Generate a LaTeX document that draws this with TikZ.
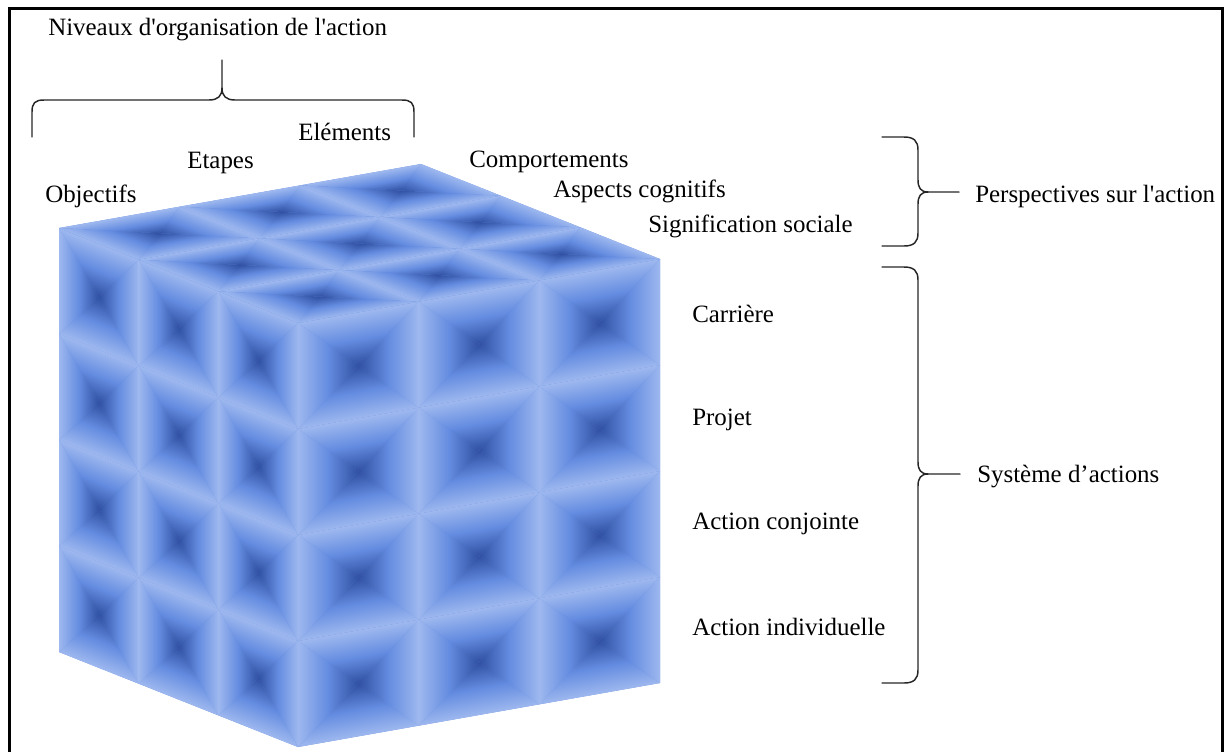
\documentclass[tikz,border=0pt]{standalone}
\usepackage{fontspec}
\newfontfamily\lblfont{Liberation Serif}
\definecolor{clight}{RGB}{158,184,239}
\definecolor{cmid}{RGB}{100,140,224}
\definecolor{cdark}{RGB}{48,80,162}
\tikzset{
  lbl/.style={font=\lblfont\fontsize{18.7}{22}\selectfont, anchor=base west, inner sep=0pt},
  bracestyle/.style={line width=1.1pt, draw=black!85, line cap=round},
  cellB/.style={top color=cdark, bottom color=clight, middle color=cmid},
  cellT/.style={top color=clight, bottom color=cdark, middle color=cmid},
  cellL/.style={left color=clight, right color=cdark, middle color=cmid},
  cellR/.style={left color=cdark, right color=clight, middle color=cmid},
}
\newcommand{\mycell}[2]{%
  \shade[cellB] (#1,#2) -- (#1+1,#2) -- (#1+0.5,#2+0.5) -- cycle;
  \shade[cellT] (#1,#2+1) -- (#1+1,#2+1) -- (#1+0.5,#2+0.5) -- cycle;
  \shade[cellL] (#1,#2) -- (#1,#2+1) -- (#1+0.5,#2+0.5) -- cycle;
  \shade[cellR] (#1+1,#2) -- (#1+1,#2+1) -- (#1+0.5,#2+0.5) -- cycle;}
\begin{document}
\begin{tikzpicture}[x=0.75pt,y=-0.75pt]
\useasboundingbox (0,0) rectangle (1225,751);
% left face
\begin{scope}[transform canvas={cm={5.975,-2.375,0,7.95,(44.25pt,-489pt)}}]
\begin{scope}[x=10pt,y=10pt]
\fill[cmid] (0,0) rectangle (3,4);
\foreach \i in {0,1,2} {\foreach \j in {0,1,2,3} {\mycell{\i}{\j}}}
\end{scope}
\end{scope}
% right face
\begin{scope}[transform canvas={cm={9.05,1.6,0,7.95,(223.5pt,-560.25pt)}}]
\begin{scope}[x=10pt,y=10pt]
\fill[cmid] (0,0) rectangle (3,4);
\foreach \i in {0,1,2} {\foreach \j in {0,1,2,3} {\mycell{\i}{\j}}}
\end{scope}
\end{scope}
% top face
\begin{scope}[transform canvas={cm={9.05,1.6,5.975,-2.375,(44.25pt,-171pt)}}]
\begin{scope}[x=10pt,y=10pt]
\fill[cmid] (0,0) rectangle (3,3);
\foreach \i in {0,1,2} {\foreach \j in {0,1,2} {\mycell{\i}{\j}}}
\end{scope}
\end{scope}
% frame
\draw[line width=2.25pt] (9.5,760) -- (9.5,8) -- (1222,8) -- (1222,760);
% top brace
\draw[bracestyle] (32,137) -- (32,112) .. controls (32,103) and (35,100) .. (44,100) -- (209,100) .. controls (218,100) and (222,96) .. (222,88) -- (222,60);
\draw[bracestyle] (222,88) .. controls (222,96) and (226,100) .. (235,100) -- (402,100) .. controls (411,100) and (414,103) .. (414,112) -- (414,137);
% right brace 1
\draw[bracestyle] (882,137) -- (904,137) .. controls (914,137) and (918,141) .. (918,150) -- (918,180) .. controls (918,188) and (921,192) .. (928,192) -- (959,192);
\draw[bracestyle] (928,192) .. controls (921,192) and (918,196) .. (918,204) -- (918,233) .. controls (918,242) and (914,246) .. (904,246) -- (882,246);
% right brace 2
\draw[bracestyle] (882,267) -- (904,267) .. controls (914,267) and (918,271) .. (918,280) -- (918,462) .. controls (918,470) and (921,474) .. (928,474) -- (960,474);
\draw[bracestyle] (928,474) .. controls (921,474) and (918,478) .. (918,486) -- (918,670) .. controls (918,679) and (914,683) .. (904,683) -- (882,683);
% labels
\node[lbl] (niv) at (48,35) {Niveaux d'organisation de l'action};
\node[lbl] (obj) at (45,202) {Objectifs};
\node[lbl] (eta) at (187,168) {Etapes};
\node[lbl] (ele) at (298,140) {Eléments};
\node[lbl] (com) at (469,167) {Comportements};
\node[lbl] (asp) at (553,197) {Aspects cognitifs};
\node[lbl] (sig) at (648,232) {Signification sociale};
\node[lbl] (per) at (975,202) {Perspectives sur l'action};
\node[lbl] (car) at (692,322) {Carrière};
\node[lbl] (pro) at (692,425) {Projet};
\node[lbl] (acj) at (692,529) {Action conjointe};
\node[lbl] (aci) at (692,635) {Action individuelle};
\node[lbl] (sys) at (977,482) {Système d’actions};
\end{tikzpicture}
\end{document}
